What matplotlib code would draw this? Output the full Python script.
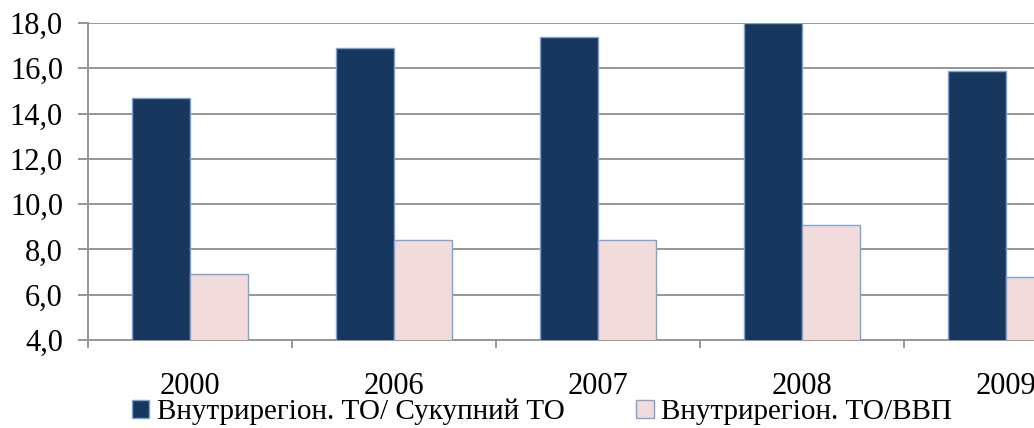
import matplotlib
matplotlib.use("Agg")
import matplotlib.pyplot as plt
import numpy as np
from matplotlib.patches import Patch

years = ["2000", "2006", "2007", "2008", "2009"]
share_total = [14.7, 16.9, 17.4, 18.0, 15.9]
share_gdp = [6.9, 8.4, 8.4, 9.1, 6.8]
yticks = [4.0, 6.0, 8.0, 10.0, 12.0, 14.0, 16.0, 18.0]
labels = ["Внутрирегіон. ТО/ Сукупний ТО", "Внутрирегіон. ТО/ВВП"]

plt.rcParams['font.family'] = ['Liberation Serif', 'DejaVu Serif']

fig = plt.figure(figsize=(10.34, 4.28), dpi=100)
ax = fig.add_axes([88/1034, 88/428, 1020/1034, 317/428])

dark = "#17375E"
pink = "#F2DCDB"
edge = "#7DA3D4"
x = np.arange(len(years))
w = 0.285
ax.bar(x - w/2, share_total, w, color=dark, edgecolor=edge, linewidth=1.0, zorder=3)
ax.bar(x + w/2, share_gdp, w, color=pink, edgecolor=edge, linewidth=1.0, zorder=3)

ax.set_xlim(-0.5, len(years) - 0.5)
ax.set_ylim(4, 18)
ax.set_yticks(yticks)
ax.set_yticklabels([f"{v:.1f}".replace(".", ",") for v in yticks], fontsize=22)
ax.yaxis.grid(True, color="#969696", linewidth=1.4, zorder=0)
ax.tick_params(axis='y', length=7, width=1.4, color="#969696", pad=11)

ax.set_xticks(x)
ax.set_xticklabels(years, fontsize=22)
ax.set_xticks(np.arange(len(years) + 1) - 0.5, minor=True)
ax.tick_params(axis='x', which='major', length=0, pad=23)
ax.tick_params(axis='x', which='minor', length=6, width=1.4, color="#969696")

for s in ["top", "right"]:
    ax.spines[s].set_visible(False)
for s in ["left", "bottom"]:
    ax.spines[s].set_color("#969696")
    ax.spines[s].set_linewidth(1.4)
ax.spines["left"].set_zorder(4)

handles = [Patch(facecolor=dark, edgecolor=edge), Patch(facecolor=pink, edgecolor=edge)]
fig.legend(handles, labels, loc="center", bbox_to_anchor=(0.524, 0.037), ncol=2,
           frameon=False, fontsize=21, handlelength=0.6, handleheight=0.6,
           handletextpad=0.25, columnspacing=2.45, borderpad=0)

fig.savefig("out.png", dpi=100)
